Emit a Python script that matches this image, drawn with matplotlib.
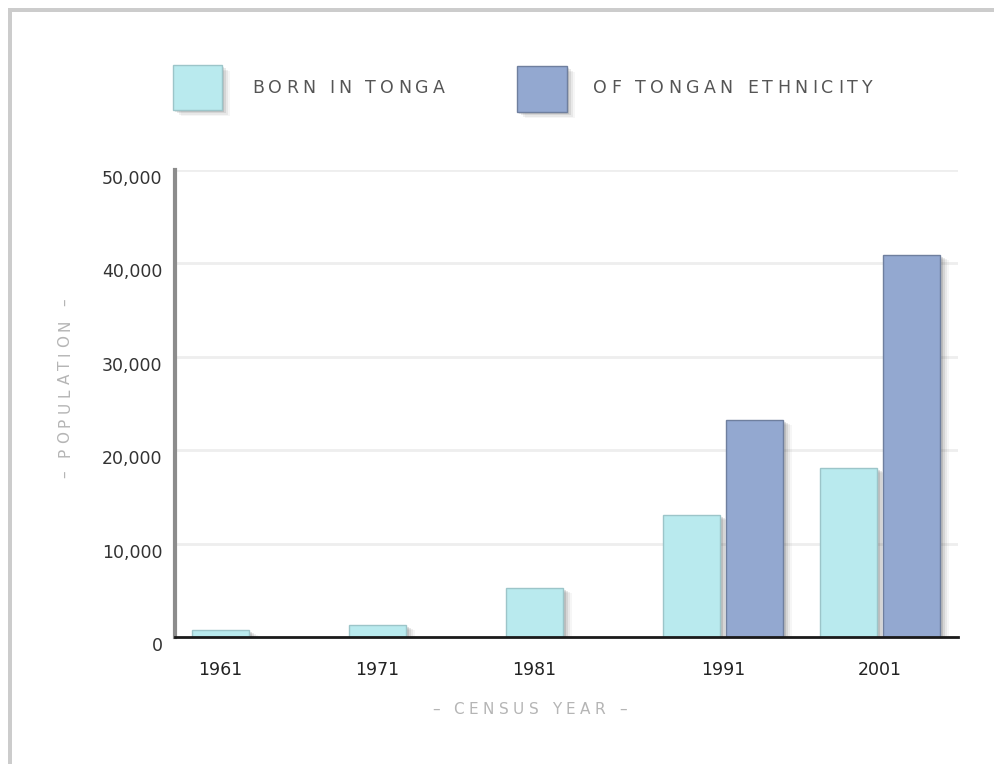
import matplotlib
matplotlib.use("Agg")
import matplotlib.pyplot as plt
from matplotlib.patches import Rectangle
from matplotlib.transforms import ScaledTranslation
import numpy as np

# ---- data ----
years = ["1961", "1971", "1981", "1991", "2001"]
born_in_tonga = [700, 1250, 5250, 13050, 18050]
tongan_ethnicity = [None, None, None, 23200, 40900]
yticks = [0, 10000, 20000, 30000, 40000, 50000]
ytick_labels = ["0", "10,000", "20,000", "30,000", "40,000", "50,000"]
series_names = ["BORN IN TONGA", "OF TONGAN ETHNICITY"]
colors = ["#b9eaee", "#93a8d0"]
edges = ["#9cc5c9", "#6f7f9e"]

W, H = 995, 764
fig = plt.figure(figsize=(W / 100, H / 100), dpi=100)
fig.patch.set_facecolor("white")

def px(x0, y0):
    return x0 / W, 1 - y0 / H

# axes placement (pixels)
L, R, T, B = 175, 958, 170, 637
ax = fig.add_axes([L / W, 1 - B / H, (R - L) / W, (B - T) / H])
ax.set_xlim(-0.49, 4.497)
ax.set_ylim(0, 50000)

bw = 0.363
off = 0.2
xs = np.arange(len(years))
xpx = 157.0           # pixels per group unit
ypx = 50000 / (B - T)  # data per pixel

def shadowed_bar(x, h, color, edge):
    # soft drop shadow
    for i, (dx, a) in enumerate([(9, 0.04), (7, 0.07), (5, 0.10), (3, 0.14)]):
        ax.bar(x + dx / xpx, h - (5 - i) * ypx, width=bw, bottom=0,
               color="#303030", alpha=a, linewidth=0, zorder=2)
    ax.bar(x, h, width=bw, color=color, edgecolor=edge, linewidth=1.0, zorder=3)

tick_pos = []
for i in range(len(years)):
    if tongan_ethnicity[i] is None:
        shadowed_bar(xs[i] - off, born_in_tonga[i], colors[0], edges[0])
        tick_pos.append(xs[i] - off)
    else:
        shadowed_bar(xs[i] - off, born_in_tonga[i], colors[0], edges[0])
        shadowed_bar(xs[i] + off, tongan_ethnicity[i], colors[1], edges[1])
        tick_pos.append(xs[i])

for yv in yticks[1:]:
    ax.axhline(yv, color="#eeeeee", linewidth=2, zorder=1)

ax.set_yticks(yticks)
ax.set_yticklabels(ytick_labels, fontsize=12.5, color="#333333")
ax.set_xticks(tick_pos)
ax.set_xticklabels(years, fontsize=12.5, color="#222222")
ax.tick_params(axis="y", length=0, pad=9)
ax.tick_params(axis="x", length=0, pad=17)
shift = ScaledTranslation(0, -7 / 100, fig.dpi_scale_trans)
for lbl in ax.get_yticklabels():
    lbl.set_transform(lbl.get_transform() + shift)
for s in ["top", "right"]:
    ax.spines[s].set_visible(False)
ax.spines["left"].set_color("#8c8c8c")
ax.spines["left"].set_linewidth(3)
ax.spines["left"].set_zorder(5)
ax.spines["bottom"].set_color("#1a1a1a")
ax.spines["bottom"].set_linewidth(2)
ax.spines["bottom"].set_zorder(6)
ax.set_facecolor("none")

# border (top & left)
fig.add_artist(Rectangle(px(8, H), 4 / W, (H - 8) / H, transform=fig.transFigure,
                         color="#cccccc", linewidth=0))
fig.add_artist(Rectangle(px(8, 12), (W - 8) / W, 4 / H, transform=fig.transFigure,
                         color="#cccccc", linewidth=0))

renderer = fig.canvas.get_renderer()

def spaced_text(s, x0, y0, span, size, color, vertical=False):
    """Place characters individually with tracking so the string spans `span` px."""
    objs = []
    widths = []
    for ch in s:
        t = fig.text(0, 0, ch, fontsize=size, color=color, rotation=90 if vertical else 0,
                     ha="left", va="center")
        bb = t.get_window_extent(renderer)
        widths.append(bb.height if vertical else bb.width)
        objs.append(t)
    track = (span - sum(widths)) / (len(s) - 1)
    pos = x0 if not vertical else y0
    for t, w in zip(objs, widths):
        if vertical:
            t.set_position(px(x0, pos))
            t.set_ha("center")
            t.set_va("bottom")
            pos -= w + track
        else:
            t.set_position(px(pos, y0))
            pos += w + track

# legend
leg_boxes = [(173, 65, 49, 45), (517, 66, 50, 46)]
leg_text = [(252, 88, 193), (593, 88, 280)]
for (bx, by, bwid, bht), name, c, e, (tx, ty, span) in zip(leg_boxes, series_names, colors, edges, leg_text):
    for dx, a in [(8, 0.04), (6, 0.07), (4, 0.10), (2, 0.12)]:
        fig.add_artist(Rectangle(px(bx + dx, by + bht + dx * 0.8), bwid / W, bht / H,
                                 transform=fig.transFigure, color="#303030", alpha=a, linewidth=0))
    fig.add_artist(Rectangle(px(bx, by + bht), bwid / W, bht / H, transform=fig.transFigure,
                             facecolor=c, edgecolor=e, linewidth=1.0))
    spaced_text(name, tx, ty, span, 12.5, "#555555")

# axis titles
spaced_text("– CENSUS YEAR –", 432, 709, 195, 11, "#b5b5b5")
spaced_text("– POPULATION –", 65, 478, 180, 11, "#b5b5b5", vertical=True)

fig.savefig("out.png", dpi=100, facecolor="white")
